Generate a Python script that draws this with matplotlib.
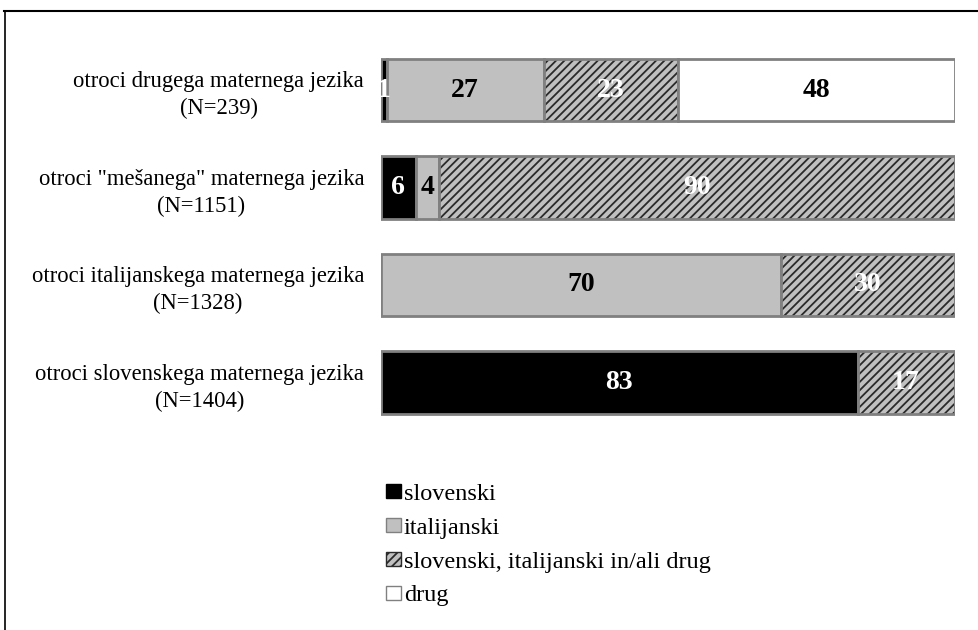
import matplotlib
matplotlib.use("Agg")
import matplotlib.pyplot as plt
from matplotlib.patches import Patch
from matplotlib.lines import Line2D
import numpy as np

plt.rcParams['font.family'] = ['Liberation Serif', 'DejaVu Serif']
plt.rcParams['hatch.linewidth'] = 1.3

# data (percent), rows from top to bottom
groups = ['otroci drugega maternega jezika\n(N=239)',
          'otroci "mešanega" maternega jezika\n(N=1151)',
          'otroci italijanskega maternega jezika\n(N=1328)',
          'otroci slovenskega maternega jezika\n(N=1404)']
series = ['slovenski', 'italijanski', 'slovenski, italijanski in/ali drug', 'drug']
slovenski = [1.0, 6.1, 0, 83.1]
italijanski = [27.4, 4.0, 69.7, 0]
mesano = [23.4, 89.9, 30.3, 16.9]
drug = [48.2, 0, 0, 0]

colors = ['#000000', '#c0c0c0', '#c0c0c0', '#ffffff']
hatches = [None, None, '////', None]
text_colors = ['white', 'black', 'white', 'black']

fig = plt.figure(figsize=(9.79, 6.3), dpi=100)
ax = fig.add_axes([0.389, 0.3155, 0.586, 0.619])

y = np.arange(len(groups))
left = np.zeros(len(groups))
for vals, c, h, tc in zip([slovenski, italijanski, mesano, drug], colors, hatches, text_colors):
    vals = np.array(vals)
    if h:
        ax.barh(y, vals, left=left, height=0.64, color=c, hatch=h,
                edgecolor='#2a2a2a', linewidth=0)
        ax.barh(y, vals, left=left, height=0.64, fill=False,
                edgecolor='#808080', linewidth=2)
    else:
        ax.barh(y, vals, left=left, height=0.64, color=c,
                edgecolor='#808080', linewidth=2)
    for i, v in enumerate(vals):
        if v > 0:
            ax.text(left[i] + v / 2, y[i], str(int(round(v))), ha='center', va='center',
                    color=tc, fontsize=20, fontweight='bold')
    left += vals

ax.set_xlim(0, 100)
ax.set_ylim(len(groups) - 0.5, -0.5)
ax.set_yticks(y)
ax.set_yticklabels(groups, fontsize=16.3, multialignment='center', linespacing=1.35)
ax.tick_params(axis='y', length=0, pad=12)
ax.set_xticks([])
for s in ax.spines.values():
    s.set_visible(False)

handles = [Patch(facecolor='#000000', edgecolor='#000000'),
           Patch(facecolor='#c0c0c0', edgecolor='#808080'),
           Patch(facecolor='#c0c0c0', edgecolor='#2a2a2a', hatch='////'),
           Patch(facecolor='white', edgecolor='#808080')]
fig.legend(handles, series, loc='upper left', bbox_to_anchor=(0.394, 0.232),
           frameon=False, fontsize=17.5, handlelength=0.62, handleheight=0.5,
           handletextpad=0.12, labelspacing=0.53, borderaxespad=0, borderpad=0)

# outer frame (top and left lines)
fig.add_artist(Line2D([0.004, 1.0], [0.982, 0.982], color='black', linewidth=1.5))
fig.add_artist(Line2D([0.005, 0.005], [0.0, 0.982], color='black', linewidth=1.2))

fig.savefig('out.png', dpi=100)
